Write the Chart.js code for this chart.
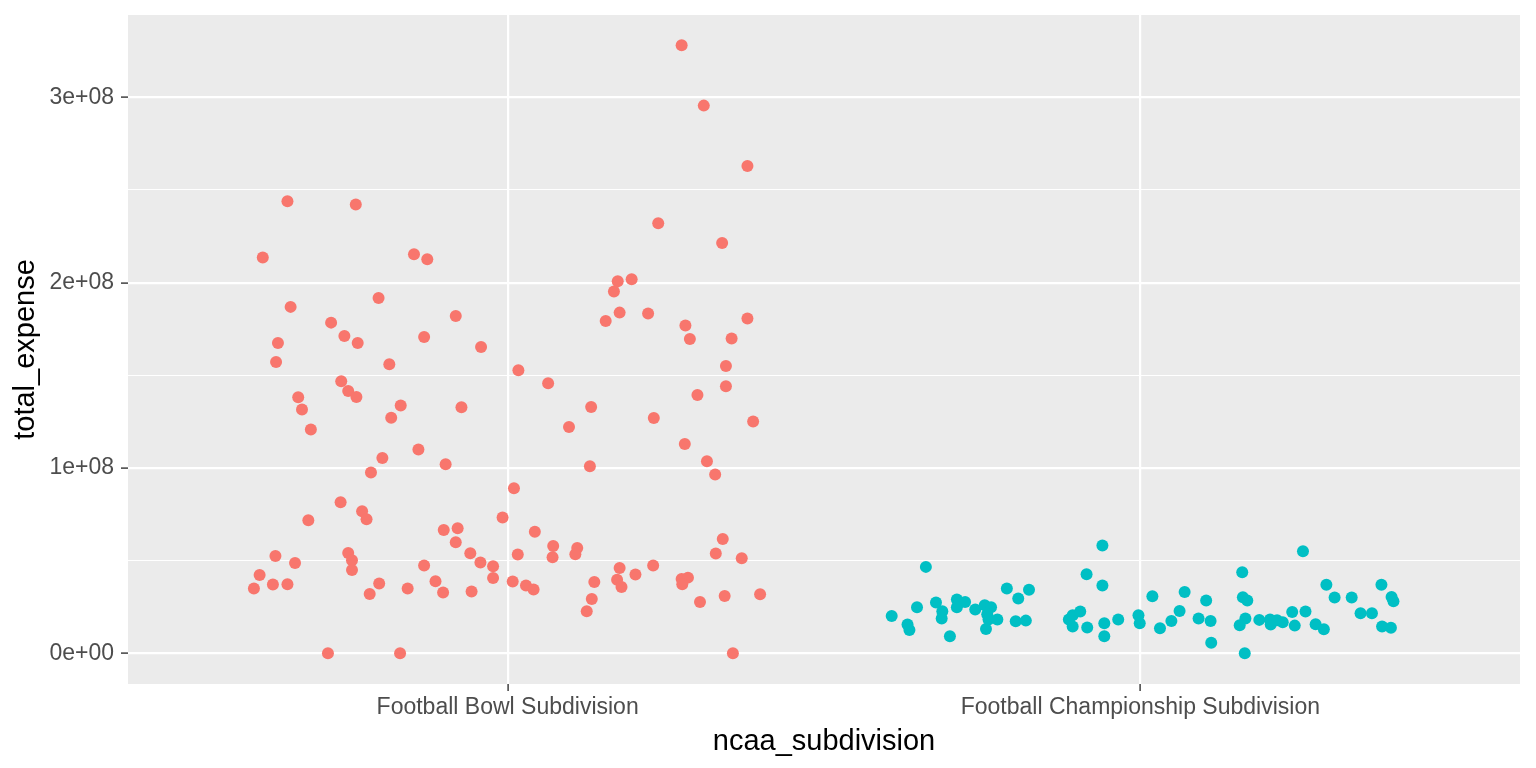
<!DOCTYPE html>
<html>
<head>
<meta charset="utf-8">
<title>total_expense by ncaa_subdivision</title>
<script src="https://cdn.jsdelivr.net/npm/chart.js@4/dist/chart.umd.min.js"></script>
<style>
	html, body { margin: 0; padding: 0; background: #ffffff; }
	#wrap { width: 1536px; height: 768px; }
</style>
</head>
<body>
<div id="wrap"><canvas id="myChart" width="1536" height="768"></canvas></div>
<script>
// categories on the x axis
const subdivisions = ["Football Bowl Subdivision", "Football Championship Subdivision"];

// y axis ticks (major ones get labels, the halves are minor grid lines)
const yTicks = [0, 0.5e8, 1e8, 1.5e8, 2e8, 2.5e8, 3e8];

// Football Bowl Subdivision: jittered x position, total expense in millions
const fbsX = [
	1.275, 1.310, 1.379, 0.652, 0.760, 0.613, 1.238, 1.339, 0.852, 0.873,
	1.174, 1.168, 1.196, 0.657, 0.796, 1.177, 1.222, 1.155, 1.281, 1.379,
	0.721, 0.637, 0.742, 0.763, 0.868, 1.288, 1.354, 0.634, 0.813, 0.918,
	0.958, 1.345, 1.017, 1.064, 0.737, 0.748, 0.761, 0.669, 0.675, 0.831,
	1.300, 1.345, 0.927, 0.816, 1.231, 0.689, 1.097, 1.132, 1.388, 0.859,
	1.280, 0.802, 0.784, 0.902, 1.130, 1.315, 1.328, 1.010, 0.736, 0.685,
	0.992, 0.770, 0.777, 0.899, 0.921, 1.043, 1.340, 0.918, 0.748, 0.754,
	0.754, 0.941, 0.957, 0.633, 1.016, 1.072, 1.071, 1.110, 1.107, 0.608,
	0.664, 0.868, 0.977, 1.177, 1.230, 1.329, 1.202, 1.370, 0.599, 0.629,
	0.652, 0.797, 0.782, 0.886, 0.842, 0.898, 0.943, 0.977, 1.008, 1.029,
	1.041, 1.137, 1.173, 1.180, 1.275, 1.285, 1.276, 1.304, 1.343, 1.399,
	1.133, 1.125, 0.716, 0.830, 1.356
];
const fbsExpense = [
	328.1, 295.5, 262.9, 243.9, 242.1, 213.5, 232.0, 221.4, 215.3, 212.6,
	200.7, 195.2, 201.8, 186.9, 191.7, 183.8, 183.3, 179.3, 176.8, 180.6,
	178.4, 167.4, 171.2, 167.4, 170.7, 169.6, 169.8, 157.2, 155.9, 182.0,
	165.3, 155.0, 152.7, 145.7, 146.8, 141.5, 138.3, 138.1, 131.5, 133.7,
	139.4, 144.1, 132.7, 127.1, 127.0, 120.7, 122.1, 132.9, 125.0, 109.9,
	112.9, 105.4, 97.5, 102.0, 100.9, 103.6, 96.4, 89.0, 81.5, 71.8,
	73.2, 76.6, 72.3, 66.5, 67.4, 65.5, 61.7, 59.9, 54.1, 50.2,
	44.9, 54.0, 48.9, 52.5, 53.3, 57.9, 51.8, 56.8, 53.4, 42.2,
	48.7, 47.3, 46.9, 46.0, 47.3, 53.8, 42.5, 51.3, 34.9, 37.1,
	37.2, 37.6, 32.0, 38.8, 34.9, 32.8, 33.3, 40.6, 38.7, 36.5,
	34.4, 38.5, 39.6, 35.8, 40.1, 40.8, 37.2, 27.7, 30.9, 31.8,
	29.3, 22.7, 0, 0, 0
];

// Football Championship Subdivision: jittered x position, total expense in millions
const fcsX = [
	1.607, 1.632, 1.635, 1.647, 1.661, 1.677, 1.687, 1.686, 1.699, 1.710,
	1.710, 1.723, 1.739, 1.754, 1.764, 1.758, 1.760, 1.774, 1.756, 1.789,
	1.807, 1.824, 1.803, 1.819, 1.887, 1.893, 1.905, 1.893, 1.916, 1.915,
	1.940, 1.940, 1.943, 1.943, 1.965, 1.997, 1.999, 2.019, 2.031, 2.049,
	2.062, 2.070, 2.092, 2.104, 2.111, 2.112, 2.161, 2.162, 2.169, 2.166,
	2.157, 2.165, 2.188, 2.205, 2.206, 2.216, 2.225, 2.240, 2.244, 2.261,
	2.257, 2.277, 2.290, 2.294, 2.307, 2.334, 2.348, 2.366, 2.381, 2.397,
	2.400, 2.382, 2.396
];
const fcsExpense = [
	20.1, 15.5, 12.6, 24.8, 46.6, 27.4, 22.7, 18.7, 9.2, 29.0,
	24.8, 27.7, 23.6, 25.9, 24.8, 21.0, 18.2, 18.2, 13.1, 34.9,
	29.5, 34.2, 17.3, 17.6, 18.2, 20.5, 22.5, 14.4, 13.9, 42.6,
	58.1, 36.5, 16.2, 9.2, 18.2, 20.5, 16.2, 30.8, 13.5, 17.4,
	22.8, 33.1, 18.7, 28.4, 17.4, 5.6, 43.7, 30.2, 28.4, 18.7,
	15.1, 0, 18.0, 18.2, 15.5, 17.8, 16.7, 22.3, 14.9, 22.5,
	55.0, 15.6, 12.9, 36.9, 30.1, 30.1, 21.6, 21.6, 36.9, 30.4,
	28.1, 14.4, 13.7
];

function toPoints(xs, ys) {
	var pts = [];
	for (let i = 0; i < xs.length; i++) {
		pts.push({ x: xs[i], y: ys[i] * 1e6 });
	}
	return pts;
}

// R style scientific labels, e.g. 3e+08
function sci(v) {
	if (v === 0) return "0e+00";
	var e = Math.floor(Math.log10(Math.abs(v)));
	var m = Math.round((v / Math.pow(10, e)) * 100) / 100;
	return m + "e" + (e < 0 ? "-" : "+") + String(Math.abs(e)).padStart(2, "0");
}

function isMajor(v) {
	return Math.abs(v % 1e8) < 1;
}

// grey panel behind the grid
const panelBg = {
	id: "panelBg",
	beforeDraw: function (chart) {
		var a = chart.chartArea;
		var c = chart.ctx;
		c.save();
		c.fillStyle = "#EBEBEB";
		c.fillRect(a.left, a.top, a.right - a.left, a.bottom - a.top);
		c.restore();
	},
};

document.addEventListener("DOMContentLoaded", function () {
	var ctx = document.getElementById("myChart").getContext("2d");
	var tickFont = { family: "'Liberation Sans', Arial, sans-serif", size: 23 };
	var titleFont = { family: "'Liberation Sans', Arial, sans-serif", size: 29 };

	var myChart = new Chart(ctx, {
		type: "scatter",
		data: {
			datasets: [
				{
					label: subdivisions[0],
					data: toPoints(fbsX, fbsExpense),
					backgroundColor: "#F8766D",
					borderWidth: 0,
					pointRadius: 6,
				},
				{
					label: subdivisions[1],
					data: toPoints(fcsX, fcsExpense),
					backgroundColor: "#00BFC4",
					borderWidth: 0,
					pointRadius: 6,
				},
			],
		},
		options: {
			responsive: false,
			animation: false,
			layout: { padding: { top: 15, right: 16, left: 0, bottom: 0 } },
			plugins: {
				legend: { display: false },
				tooltip: { enabled: false },
			},
			scales: {
				x: {
					type: "linear",
					min: 0.4,
					max: 2.6,
					afterBuildTicks: function (scale) {
						scale.ticks = subdivisions.map(function (s, i) {
							return { value: i + 1 };
						});
					},
					afterFit: function (scale) {
						scale.height = 84;
						scale.paddingLeft = 0;
						scale.paddingRight = 0;
					},
					ticks: {
						font: tickFont,
						color: "#4D4D4D",
						padding: 3,
						maxRotation: 0,
						autoSkip: false,
						callback: function (v) {
							return subdivisions[Math.round(v) - 1];
						},
					},
					grid: {
						color: "#FFFFFF",
						lineWidth: 2.2,
						tickColor: "#333333",
						tickLength: 7,
						tickWidth: 1.4,
					},
					border: { display: false },
					title: {
						display: true,
						text: "ncaa_subdivision",
						font: titleFont,
						color: "#000000",
						padding: { top: 0, bottom: 9 },
					},
				},
				y: {
					min: -16.6e6,
					max: 344.4e6,
					afterBuildTicks: function (scale) {
						scale.ticks = yTicks.map(function (v) {
							return { value: v };
						});
					},
					afterFit: function (scale) {
						scale.width = 128;
						scale.paddingTop = 0;
						scale.paddingBottom = 0;
					},
					ticks: {
						font: tickFont,
						color: "#4D4D4D",
						padding: 7,
						callback: function (v) {
							return isMajor(v) ? sci(v) : "";
						},
					},
					grid: {
						color: "#FFFFFF",
						lineWidth: function (c) {
							return c.tick && isMajor(c.tick.value) ? 2.2 : 1.1;
						},
						tickColor: function (c) {
							return c.tick && isMajor(c.tick.value) ? "#333333" : "rgba(0,0,0,0)";
						},
						tickLength: 7,
						tickWidth: 1.4,
					},
					border: { display: false },
					title: {
						display: true,
						text: "total_expense",
						font: titleFont,
						color: "#000000",
						padding: { top: 9, bottom: 0 },
					},
				},
			},
		},
		plugins: [panelBg],
	});
});
</script>
</body>
</html>
